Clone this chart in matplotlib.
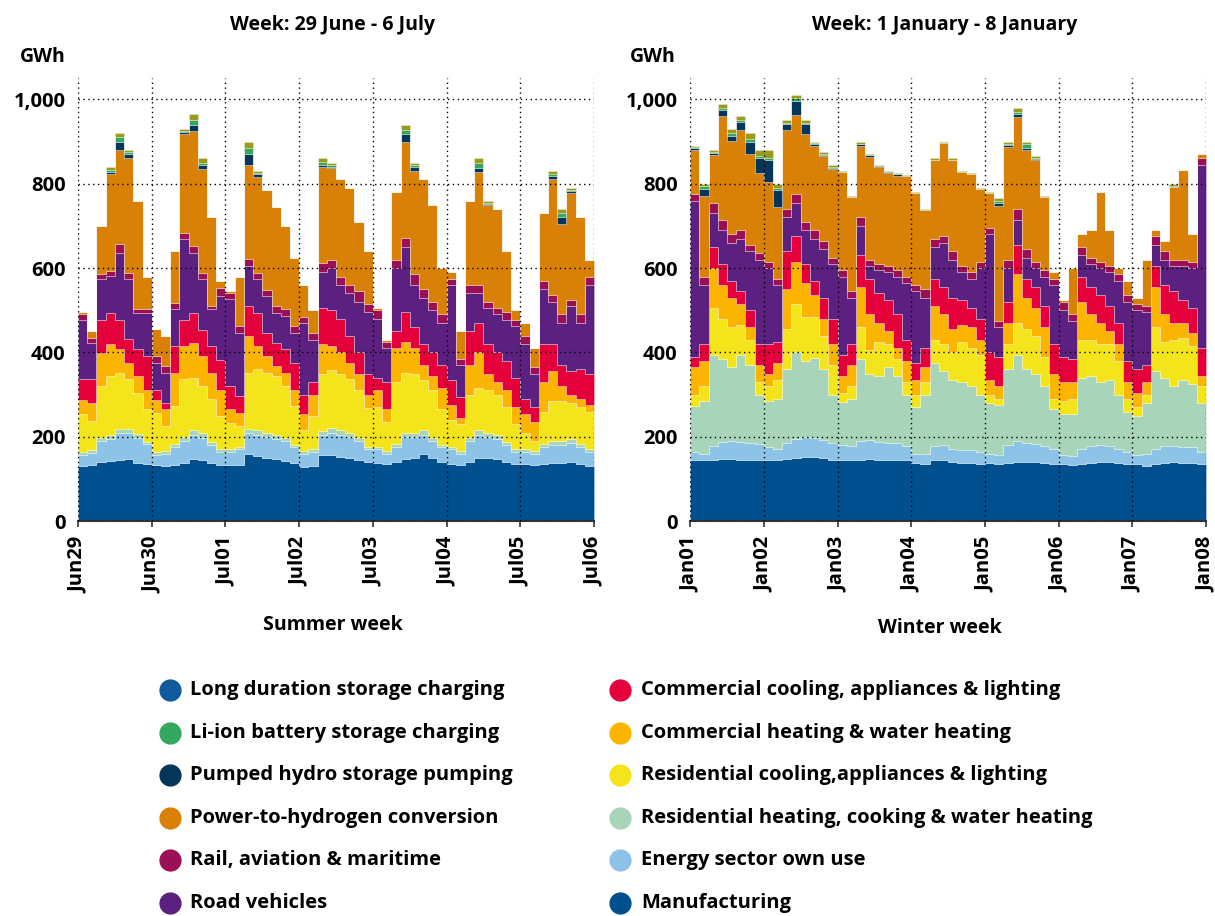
import matplotlib
matplotlib.use('Agg')
import matplotlib.pyplot as plt
import numpy as np

plt.rcParams['font.family'] = ['Open Sans', 'DejaVu Sans']
plt.rcParams['font.weight'] = 'bold'

# 3-hourly demand by end use, GWh (8 slots per day, 7 days)
# --- summer week: 29 June - 6 July ---
manu_s = [132, 133, 140, 143, 145, 148, 138, 135, 134, 132, 133, 138, 147, 145, 138, 133,
          133, 134, 160, 155, 150, 148, 143, 138, 128, 130, 158, 158, 152, 150, 145, 140,
          137, 135, 140, 148, 150, 160, 150, 140, 135, 133, 140, 150, 150, 148, 140, 135,
          135, 133, 135, 138, 138, 140, 135, 130]
own_s = [26, 29, 50, 51, 64, 61, 60, 47, 24, 28, 42, 52, 58, 53, 42, 32,
         32, 36, 50, 50, 50, 47, 47, 37, 32, 35, 47, 52, 53, 50, 45, 30,
         33, 25, 35, 52, 50, 45, 40, 35, 35, 27, 50, 55, 50, 47, 40, 30,
         30, 27, 40, 42, 42, 45, 40, 35]
resheat_s = [6, 6, 8, 10, 10, 10, 8, 6, 6, 6, 8, 10, 10, 10, 8, 6,
             6, 6, 8, 10, 10, 10, 8, 6, 6, 6, 8, 10, 10, 10, 8, 6,
             6, 6, 8, 10, 10, 10, 8, 6, 6, 6, 8, 10, 10, 10, 8, 6,
             6, 6, 8, 10, 10, 10, 8, 6]
rescool_s = [89, 69, 122, 140, 133, 117, 98, 77, 93, 59, 90, 136, 125, 112, 101, 78,
             62, 49, 134, 145, 142, 139, 122, 92, 49, 79, 137, 138, 135, 126, 114, 92,
             94, 69, 147, 142, 140, 120, 112, 84, 64, 64, 102, 100, 100, 95, 82, 59,
             39, 24, 77, 95, 95, 85, 87, 89]
comheat_s = [35, 43, 79, 75, 55, 39, 40, 47, 31, 40, 79, 79, 83, 71, 63, 63,
             32, 32, 87, 55, 39, 24, 32, 39, 40, 50, 70, 57, 50, 39, 38, 32,
             40, 30, 80, 73, 60, 35, 35, 50, 35, 15, 70, 85, 40, 30, 40, 40,
             45, 45, 70, 70, 35, 20, 20, 15]
comcool_s = [48, 56, 79, 75, 71, 56, 63, 79, 24, 16, 63, 63, 71, 63, 63, 71,
             55, 39, 71, 79, 56, 55, 55, 63, 45, 30, 85, 85, 80, 65, 50, 50,
             30, 65, 40, 70, 50, 50, 55, 55, 60, 50, 80, 70, 70, 70, 70, 70,
             35, 35, 90, 65, 50, 55, 70, 75]
road_s = [142, 87, 95, 87, 158, 142, 87, 103, 63, 71, 87, 190, 142, 119, 87, 151,
          206, 151, 95, 79, 87, 71, 79, 72, 170, 100, 85, 100, 80, 100, 120, 145,
          140, 80, 150, 155, 100, 110, 100, 100, 225, 75, 90, 70, 85, 90, 98, 122,
          130, 80, 130, 100, 100, 155, 110, 210]
rail_s = [12, 12, 12, 12, 20, 16, 8, 8, 16, 16, 16, 16, 16, 16, 8, 19,
          15, 15, 17, 16, 14, 16, 16, 15, 15, 15, 22, 18, 20, 20, 25, 20,
          20, 15, 20, 22, 25, 20, 20, 20, 15, 15, 20, 20, 15, 15, 17, 16,
          20, 15, 20, 15, 20, 15, 20, 20]
h2_s = [5, 15, 115, 229, 224, 271, 258, 78, 64, 72, 122, 233, 273, 246, 210, 17,
        4, 118, 223, 228, 238, 235, 198, 163, 75, 55, 227, 219, 230, 230, 165, 125,
        5, 5, 160, 226, 245, 260, 230, 110, 15, 65, 200, 268, 229, 235, 145, 22,
        30, 45, 160, 275, 215, 252, 230, 40]
pumped_s = [0, 0, 0, 5, 20, 10, 0, 0, 0, 0, 0, 5, 15, 10, 0, 0,
            0, 0, 25, 5, 0, 0, 0, 0, 0, 0, 5, 3, 0, 0, 0, 0,
            0, 0, 0, 20, 10, 0, 0, 0, 0, 0, 0, 10, 3, 0, 0, 0,
            0, 0, 0, 8, 15, 5, 0, 0]
liion_s = [0, 0, 0, 5, 10, 5, 0, 0, 0, 0, 0, 3, 10, 5, 0, 0,
           0, 0, 15, 3, 0, 0, 0, 0, 0, 0, 8, 5, 0, 0, 0, 0,
           0, 0, 0, 10, 5, 0, 0, 0, 0, 0, 0, 12, 3, 0, 0, 0,
           0, 0, 0, 6, 10, 3, 0, 0]
longdur_s = [0, 0, 0, 8, 10, 5, 0, 0, 0, 0, 0, 5, 15, 10, 0, 0,
             0, 0, 15, 5, 0, 0, 0, 0, 0, 0, 8, 5, 0, 0, 0, 0,
             0, 0, 0, 12, 5, 0, 0, 0, 0, 0, 0, 10, 5, 0, 0, 0,
             0, 0, 0, 6, 10, 5, 0, 0]

# --- winter week: 1 - 8 January ---
manu_w = [146, 144, 146, 148, 148, 146, 146, 146, 146, 145, 148, 150, 152, 152, 150, 146,
          146, 144, 146, 148, 146, 146, 144, 144, 138, 135, 145, 145, 140, 138, 138, 135,
          137, 136, 138, 140, 140, 140, 138, 136, 135, 133, 135, 138, 140, 140, 137, 135,
          135, 132, 135, 138, 140, 138, 137, 135]
own_w = [19, 16, 32, 40, 42, 42, 40, 36, 29, 25, 37, 45, 48, 46, 43, 39,
         34, 34, 44, 44, 42, 39, 41, 34, 22, 25, 33, 35, 30, 30, 30, 30,
         23, 22, 42, 50, 45, 42, 40, 34, 23, 22, 35, 40, 40, 38, 35, 30,
         23, 28, 37, 40, 38, 39, 39, 30]
resheat_w = [107, 125, 217, 197, 175, 207, 184, 118, 110, 120, 175, 205, 180, 190, 167, 115,
             103, 112, 195, 158, 157, 180, 160, 122, 110, 140, 197, 175, 165, 162, 152, 135,
             120, 117, 180, 205, 175, 168, 142, 95, 97, 100, 170, 167, 150, 157, 128, 95,
             92, 120, 183, 162, 142, 158, 149, 115]
rescool_w = [28, 35, 110, 95, 95, 70, 60, 30, 35, 45, 95, 115, 105, 97, 80, 70,
             22, 30, 75, 55, 80, 55, 40, 30, 30, 30, 55, 65, 65, 95, 90, 95,
             20, 15, 60, 75, 95, 90, 70, 25, 30, 35, 90, 85, 90, 85, 80, 30,
             20, 20, 105, 85, 110, 100, 90, 40]
comheat_w = [65, 60, 95, 80, 70, 50, 30, 40, 30, 40, 95, 100, 80, 50, 40, 50,
             40, 50, 95, 85, 45, 30, 25, 50, 35, 35, 80, 70, 55, 40, 50, 35,
             35, 30, 50, 115, 75, 65, 70, 60, 45, 40, 90, 60, 50, 30, 40, 40,
             35, 30, 95, 65, 40, 35, 30, 25]
comcool_w = [25, 40, 50, 50, 40, 30, 40, 50, 70, 50, 90, 60, 45, 35, 50, 60,
             50, 50, 75, 85, 70, 75, 80, 50, 40, 45, 65, 65, 75, 60, 45, 50,
             65, 70, 50, 70, 45, 50, 50, 70, 60, 55, 60, 65, 65, 60, 50, 50,
             55, 40, 50, 70, 75, 55, 60, 65]
road_w = [370, 140, 80, 80, 90, 125, 140, 200, 180, 135, 80, 80, 80, 98, 115, 130,
          185, 110, 70, 30, 55, 65, 90, 135, 170, 120, 75, 105, 90, 65, 70, 120,
          280, 70, 80, 60, 50, 45, 70, 140, 110, 90, 50, 55, 65, 80, 100, 140,
          140, 125, 50, 60, 60, 80, 95, 435]
rail_w = [15, 20, 25, 25, 20, 20, 15, 15, 15, 15, 20, 20, 20, 22, 20, 15,
          15, 15, 20, 15, 15, 15, 15, 15, 15, 20, 20, 15, 20, 15, 15, 15,
          15, 15, 20, 25, 20, 15, 15, 15, 20, 15, 20, 15, 15, 15, 15, 15,
          15, 15, 20, 20, 15, 15, 15, 15]
h2_w = [105, 192, 112, 245, 222, 237, 215, 190, 190, 170, 187, 187, 207, 200, 200, 210,
        233, 223, 170, 244, 229, 220, 224, 238, 218, 188, 187, 222, 217, 222, 232, 173,
        83, 272, 267, 217, 235, 241, 173, 15, 5, 110, 30, 65, 165, 85, 15, 35,
        15, 110, 15, 25, 172, 213, 65, 10]
pumped_w = [5, 15, 5, 15, 10, 20, 30, 35, 50, 40, 15, 35, 25, 5, 3, 3,
            0, 0, 3, 3, 3, 3, 3, 0, 0, 0, 0, 0, 0, 0, 0, 0,
            0, 8, 5, 8, 5, 3, 0, 0, 0, 0, 0, 0, 0, 0, 0, 0,
            0, 0, 0, 0, 0, 0, 0, 0]
liion_w = [3, 8, 3, 5, 8, 5, 5, 5, 5, 5, 3, 5, 3, 2, 2, 2,
           0, 0, 2, 0, 0, 0, 0, 0, 0, 0, 0, 0, 0, 0, 0, 0,
           0, 5, 3, 5, 10, 3, 0, 0, 0, 0, 0, 0, 0, 0, 0, 0,
           0, 0, 0, 0, 3, 0, 0, 0]
longdur_w = [2, 5, 5, 10, 10, 8, 15, 15, 20, 10, 5, 8, 5, 3, 5, 5,
             2, 2, 5, 3, 3, 2, 3, 2, 2, 2, 3, 3, 3, 3, 3, 2,
             2, 5, 5, 10, 5, 3, 2, 0, 0, 0, 0, 0, 0, 0, 0, 0,
             0, 0, 0, 0, 5, 0, 0, 0]

summer_days = ['Jun29', 'Jun30', 'Jul01', 'Jul02', 'Jul03', 'Jul04', 'Jul05', 'Jul06']
winter_days = ['Jan01', 'Jan02', 'Jan03', 'Jan04', 'Jan05', 'Jan06', 'Jan07', 'Jan08']

# stacking order, bottom to top
fills = ['#00508f', '#8dc3e6', '#a8d5ba', '#f4e41c', '#fbb500', '#e4003a',
         '#5c2180', '#9a0f55', '#d98006', '#06355a', '#35a860', '#9a9a1e']

legend_left = [('Long duration storage charging', '#0e5a9c'),
               ('Li-ion battery storage charging', '#35a860'),
               ('Pumped hydro storage pumping', '#06355a'),
               ('Power-to-hydrogen conversion', '#d98006'),
               ('Rail, aviation & maritime', '#9a0f55'),
               ('Road vehicles', '#5c2180')]
legend_right = [('Commercial cooling, appliances & lighting', '#e4003a'),
                ('Commercial heating & water heating', '#fbb500'),
                ('Residential cooling,appliances & lighting', '#f4e41c'),
                ('Residential heating, cooking & water heating', '#a8d5ba'),
                ('Energy sector own use', '#8dc3e6'),
                ('Manufacturing', '#00508f')]


def draw(ax, layers, days):
    x = np.arange(0, 169, 3)
    ys = [np.append(v, v[-1]) for v in layers]
    ax.stackplot(x, ys, colors=fills, step='post',
                 linewidth=0.6, edgecolor=(1, 1, 1, 0.35))
    ax.set_xlim(0, 168)
    ax.set_ylim(0, 1050)
    ax.set_xticks(np.arange(0, 169, 24))
    ax.set_xticklabels(days, rotation=90, fontsize=14.5)
    ax.set_yticks(np.arange(0, 1001, 200))
    ax.set_yticklabels(['0', '200', '400', '600', '800', '1,000'], fontsize=14.5)
    ax.grid(True, linestyle=(0, (1, 2.5)), color='black', linewidth=1)
    ax.set_axisbelow(False)
    for s in ['top', 'right', 'left']:
        ax.spines[s].set_visible(False)
    ax.spines['bottom'].set_color('#333333')
    ax.spines['bottom'].set_linewidth(1.5)
    ax.tick_params(axis='y', length=0, pad=9)
    ax.tick_params(axis='x', length=4, width=1.2, color='#333333', pad=7)


fig = plt.figure(figsize=(12.15, 9.16), dpi=100)
ax1 = fig.add_axes([0.0642, 0.431, 0.4247, 0.4836])
ax2 = fig.add_axes([0.568, 0.431, 0.4247, 0.4836])

draw(ax1, [manu_s, own_s, resheat_s, rescool_s, comheat_s, comcool_s, road_s,
           rail_s, h2_s, pumped_s, liion_s, longdur_s], summer_days)
draw(ax2, [manu_w, own_w, resheat_w, rescool_w, comheat_w, comcool_w, road_w,
           rail_w, h2_w, pumped_w, liion_w, longdur_w], winter_days)

W, H = 1215, 916
fig.text(333 / W, 1 - 25 / H, 'Week: 29 June - 6 July', ha='center', va='center', fontsize=14)
fig.text(945 / W, 1 - 25 / H, 'Week: 1 January - 8 January', ha='center', va='center', fontsize=14)
fig.text(43 / W, 1 - 57 / H, 'GWh', ha='center', va='center', fontsize=14)
fig.text(653 / W, 1 - 57 / H, 'GWh', ha='center', va='center', fontsize=14)
fig.text(333 / W, 1 - 625 / H, 'Summer week', ha='center', va='center', fontsize=14)
fig.text(940 / W, 1 - 628 / H, 'Winter week', ha='center', va='center', fontsize=14)

rows = [690, 733, 775, 818, 860, 903]
for (label, col), y in zip(legend_left, rows):
    fig.add_artist(plt.Line2D([170 / W], [1 - y / H], marker='o', markersize=15,
                              color=col, linestyle='none'))
    fig.text(190 / W, 1 - y / H, label, va='center', fontsize=14.5)
for (label, col), y in zip(legend_right, rows):
    fig.add_artist(plt.Line2D([620 / W], [1 - y / H], marker='o', markersize=15,
                              color=col, linestyle='none'))
    fig.text(641 / W, 1 - y / H, label, va='center', fontsize=14.5)

fig.savefig('out.png', dpi=100)
